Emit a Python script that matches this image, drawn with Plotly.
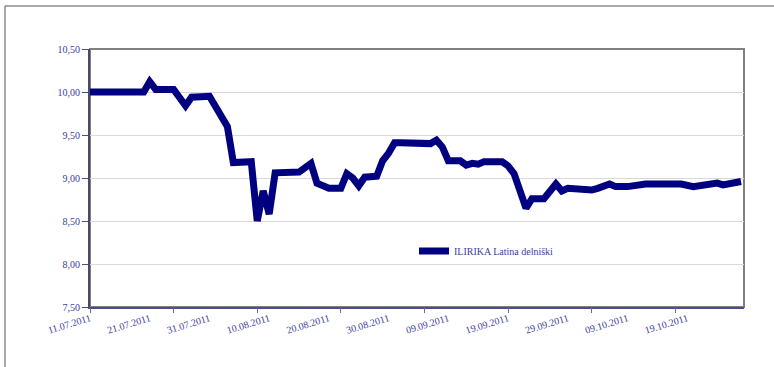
import plotly.graph_objects as go

# Share price, ILIRIKA Latina delniški (daily values, 2011)
dates = [
    "2011-07-11", "2011-07-20", "2011-07-21", "2011-07-22", "2011-07-25",
    "2011-07-27", "2011-07-28", "2011-07-31", "2011-08-03", "2011-08-04",
    "2011-08-07", "2011-08-08", "2011-08-09", "2011-08-10", "2011-08-11",
    "2011-08-15", "2011-08-17", "2011-08-18", "2011-08-20", "2011-08-22",
    "2011-08-23", "2011-08-24", "2011-08-25", "2011-08-26", "2011-08-28",
    "2011-08-29", "2011-08-30", "2011-08-31", "2011-09-01", "2011-09-03",
    "2011-09-06", "2011-09-07", "2011-09-08", "2011-09-09", "2011-09-11",
    "2011-09-12", "2011-09-13", "2011-09-14", "2011-09-15", "2011-09-18",
    "2011-09-19", "2011-09-20", "2011-09-22", "2011-09-23", "2011-09-25",
    "2011-09-27", "2011-09-28", "2011-09-29", "2011-10-01", "2011-10-03",
    "2011-10-04", "2011-10-06", "2011-10-07", "2011-10-09", "2011-10-12",
    "2011-10-16", "2011-10-18", "2011-10-20", "2011-10-22", "2011-10-24",
    "2011-10-25", "2011-10-27", "2011-10-28",
]
prices = [
    10.00, 10.00, 10.12, 10.03, 10.03,
    9.84, 9.94, 9.95, 9.60, 9.18,
    9.19, 8.50, 8.85, 8.58, 9.06,
    9.07, 9.17, 8.94, 8.88, 8.88,
    9.05, 9.00, 8.91, 9.01, 9.02,
    9.20, 9.29, 9.41, 9.41, 9.40,
    9.40, 9.44, 9.36, 9.20, 9.20,
    9.15, 9.17, 9.16, 9.19, 9.19,
    9.14, 9.05, 8.65, 8.76, 8.76,
    8.93, 8.85, 8.88, 8.86, 8.86,
    8.88, 8.93, 8.90, 8.90, 8.93,
    8.94, 8.93, 8.90, 8.92, 8.94,
    8.92, 8.96, 8.96,
]
series_name = "ILIRIKA Latina delniški"

# Axis labelling
y_ticks = [7.5, 8.0, 8.5, 9.0, 9.5, 10.0, 10.5]
y_tick_text = ["7,50", "8,00", "8,50", "9,00", "9,50", "10,00", "10,50"]
x_label_dates = [
    "2011-07-11", "2011-07-21", "2011-07-31", "2011-08-10", "2011-08-20",
    "2011-08-30", "2011-09-09", "2011-09-19", "2011-09-29", "2011-10-09",
    "2011-10-19",
]
x_label_text = [
    "11.07.2011", "21.07.2011", "31.07.2011", "10.08.2011", "20.08.2011",
    "30.08.2011", "09.09.2011", "19.09.2011", "29.09.2011", "09.10.2011",
    "19.10.2011",
]
x_range = ["2011-07-11", "2011-10-28 12:00"]

TEXT_BLUE = "#3d3d9e"
FONT = "Liberation Serif, DejaVu Serif, serif"
W, H = 774, 367
ML, MR, MT, MB = 90, 30, 49, 60
PW, PH = W - ML - MR, H - MT - MB


def px_x(px):
    return (px - ML) / PW


def px_y(py):
    return (H - MB - py) / PH


fig = go.Figure()
fig.add_trace(go.Scatter(
    x=dates, y=prices, mode="lines", name=series_name,
    line=dict(color="#000080", width=7),
))
# empty helper trace so the tick-mark axis (x2) gets rendered
fig.add_trace(go.Scatter(
    x=x_range, y=[None, None], xaxis="x2", yaxis="y", mode="lines",
    showlegend=False, hoverinfo="skip",
))

fig.update_layout(
    width=W, height=H,
    margin=dict(l=ML, r=MR, t=MT, b=MB),
    paper_bgcolor="white", plot_bgcolor="white",
    font=dict(family=FONT, color=TEXT_BLUE, size=10),
    showlegend=True,
    legend=dict(
        x=px_x(414), y=px_y(251), xanchor="left", yanchor="middle",
        bgcolor="rgba(0,0,0,0)", font=dict(family=FONT, size=10, color=TEXT_BLUE),
    ),
    xaxis=dict(
        type="date", range=x_range,
        tickmode="array", tickvals=x_label_dates, ticktext=x_label_text,
        tickangle=-17, ticks="", showgrid=False,
        showline=True, linecolor="#4a4a8c", linewidth=2,
        tickfont=dict(family=FONT, size=10, color=TEXT_BLUE),
        zeroline=False,
    ),
    xaxis2=dict(
        type="date", range=x_range, overlaying="x", anchor="y", side="bottom",
        tick0="2011-07-11", dtick=14 * 86400000, ticks="outside", ticklen=5,
        tickcolor="#6a6a9a", tickwidth=1,
        showticklabels=False, showgrid=False, showline=False, zeroline=False,
    ),
    yaxis=dict(
        range=[7.5, 10.5], tickmode="array", tickvals=y_ticks, ticktext=y_tick_text,
        ticks="outside", ticklen=6, tickcolor="#4a4a8c",
        showgrid=True, gridcolor="#d9d9d9", gridwidth=1,
        showline=True, linecolor="#4a4a6c", linewidth=2,
        tickfont=dict(family=FONT, size=10, color=TEXT_BLUE),
        zeroline=False,
    ),
    shapes=[
        # plot-area frame (top and right edges in grey)
        dict(type="rect", xref="paper", yref="paper", x0=0, y0=0, x1=1, y1=1,
             line=dict(color="#808080", width=2), layer="below"),
        # outer chart frame
        dict(type="rect", xref="paper", yref="paper",
             x0=px_x(5), y0=px_y(380), x1=px_x(790), y1=px_y(6),
             line=dict(color="#555555", width=1), layer="below"),
    ],
)

fig.write_html("out.html")
